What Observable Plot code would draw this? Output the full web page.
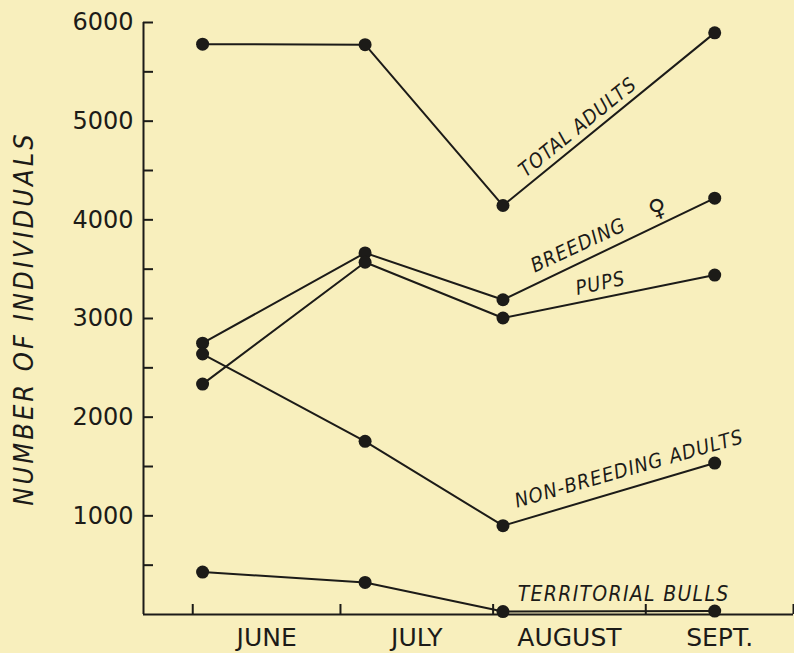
<!DOCTYPE html>
<html>
<head>
<meta charset="utf-8">
<script src="https://cdn.jsdelivr.net/npm/d3@7"></script>
<script src="https://cdn.jsdelivr.net/npm/@observablehq/plot@0.6"></script>
<style>
  html, body { margin: 0; padding: 0; background: #f8efbd; }
  #chart svg { display: block; }
</style>
</head>
<body>
<div id="chart"></div>
<script>
// Survey dates, as days after 1 June
const surveyDays = [2, 35, 63, 106];
const seriesNames = ["TOTAL ADULTS", "BREEDING FEMALES", "PUPS", "NON-BREEDING ADULTS", "TERRITORIAL BULLS"];
const totalAdults = [5780, 5775, 4145, 5895];
const breedingFemales = [2750, 3665, 3190, 4220];
const pups = [2335, 3570, 3005, 3440];
const nonBreedingAdults = [2640, 1755, 900, 1535];
const territorialBulls = [430, 325, 30, 35];
const seriesValues = [totalAdults, breedingFemales, pups, nonBreedingAdults, territorialBulls];

// Axis ticks
const yTickValues = d3.range(500, 6001, 500);
const yLabelValues = [1000, 2000, 3000, 4000, 5000, 6000];
const monthStarts = [0, 30, 61, 92, 122];
const monthMids = [15, 45.5, 76.5, 107];
const monthLabels = ["JUNE", "JULY", "AUGUST", "SEPT."];
const yTitle = "NUMBER OF INDIVIDUALS";

// Curve labels (anchor in data units, angle in degrees)
const labelText = ["TOTAL ADULTS", "BREEDING", "PUPS", "NON-BREEDING ADULTS", "TERRITORIAL BULLS"];
const labelDay = [78.2, 78.3, 82.8, 88.6, 87.5];
const labelValue = [4939, 3740, 3355, 1475, 203];
const labelAngle = [-39, -25, -12, -16, 0];
const femaleSymbol = ["♀"];
const femaleDay = [94.4];
const femaleValue = [4115];

const ink = "#1c1b18";
const bg = "#f8efbd";

const rows = [];
seriesNames.forEach((s, i) => surveyDays.forEach((d, j) => rows.push({series: s, day: d, value: seriesValues[i][j]})));
const labels = labelText.map((t, i) => ({text: t, day: labelDay[i], value: labelValue[i], angle: labelAngle[i]}));
const female = femaleSymbol.map((t, i) => ({text: t, day: femaleDay[i], value: femaleValue[i]}));

const condensed = "'DejaVu Sans Condensed', 'Liberation Sans Narrow', 'DejaVu Sans', sans-serif";

const chart = Plot.plot({
  width: 794,
  height: 653,
  marginLeft: 143,
  marginRight: 1,
  marginTop: 22,
  marginBottom: 39,
  style: {background: bg, color: ink, fontFamily: "'DejaVu Sans', sans-serif"},
  x: {domain: [-10, 122]},
  y: {domain: [0, 6000]},
  marks: [
    Plot.ruleX([-10], {stroke: ink, strokeWidth: 2}),
    Plot.ruleY([0], {stroke: ink, strokeWidth: 2}),
    Plot.tickY(yTickValues, {y: d => d, insetRight: 640, stroke: ink, strokeWidth: 2}),
    Plot.tickX(monthStarts, {x: d => d, insetTop: 582, stroke: ink, strokeWidth: 2}),
    Plot.axisY({ticks: yLabelValues, tickFormat: d => String(d), tickSize: 0, tickPadding: 10, fontSize: 24, label: null, fill: ink}),
    Plot.axisX({ticks: monthMids, tickFormat: d => monthLabels[monthMids.indexOf(d)], tickSize: 0, tickPadding: 14, fontSize: 25, label: null, fill: ink}),
    Plot.line(rows, {x: "day", y: "value", z: "series", stroke: ink, strokeWidth: 2}),
    Plot.dot(rows, {x: "day", y: "value", r: 6.5, fill: ink}),
    Plot.text(labels, {x: "day", y: "value", text: "text", rotate: "angle", fontSize: 20, fontStyle: "italic", fontFamily: condensed, fill: ink, ariaDescription: "curve-labels"}),
    Plot.text(female, {x: "day", y: "value", text: "text", rotate: -20, fontSize: 24, fontFamily: "'DejaVu Sans', sans-serif", fill: ink}),
    Plot.text([yTitle], {text: d => d, frameAnchor: "left", textAnchor: "middle", dx: -119, rotate: -90, fontSize: 27, fontStyle: "italic", fontFamily: condensed, fill: ink, ariaDescription: "y-title"})
  ]
});

d3.select(chart).selectAll("g[aria-description='curve-labels'] text").style("letter-spacing", "1px");
d3.select(chart).selectAll("g[aria-description='curve-labels'] text").filter(function() { return this.textContent === "TERRITORIAL BULLS"; }).style("font-size", "21px").style("letter-spacing", "1.3px");
d3.select(chart).selectAll("g[aria-description='y-title'] text").style("letter-spacing", "3px");

document.getElementById("chart").appendChild(chart);
</script>
</body>
</html>
